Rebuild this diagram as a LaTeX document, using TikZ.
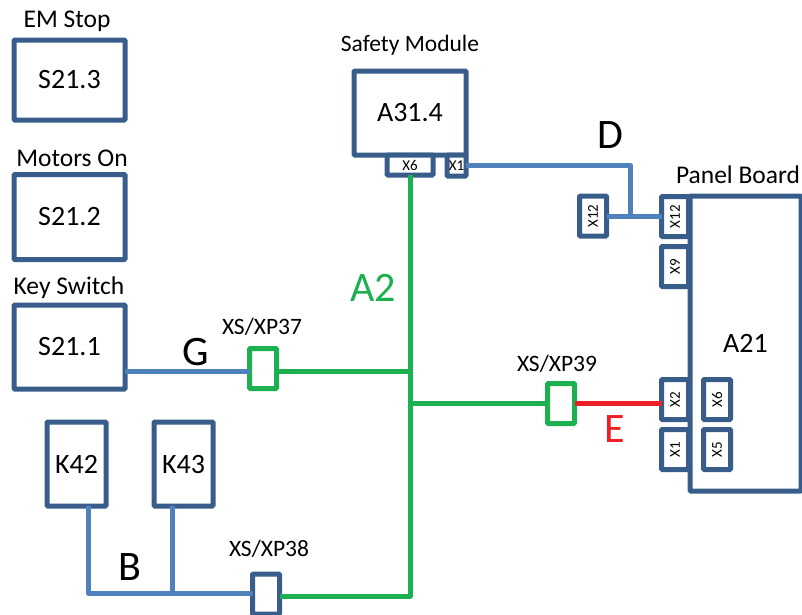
\documentclass[tikz,border=0pt]{standalone}
\usepackage{fontspec}
\setmainfont{Carlito}
\definecolor{boxblue}{HTML}{385D8A}
\definecolor{wireblue}{HTML}{4F81BD}
\definecolor{wiregreen}{HTML}{1DB050}
\definecolor{wirered}{HTML}{EE2027}
\newcommand{\sz}[1]{\fontsize{#1}{#1}\selectfont}

\begin{document}
\begin{tikzpicture}[x=1pt,y=-1pt,
        unitbox/.style={draw=boxblue, fill=white, line width=5pt, rounded corners=1pt, inner sep=0pt, outer sep=0pt, font=\sz{28}},
        portbox/.style={unitbox, font=\sz{15}, minimum width=27pt, minimum height=40pt},
        plugbox/.style={portbox, draw=wiregreen},
        title/.style={font=\sz{23.5}, inner sep=0pt},
        bigtitle/.style={font=\sz{25.5}, inner sep=0pt},
        wirelabel/.style={font=\sz{42}, inner sep=0pt},
        wire/.style={line width=5pt, wireblue, line join=round}
    ]
        \useasboundingbox (0,0) rectangle (802,614);
        % units
        \node[unitbox, minimum width=111pt, minimum height=80pt] (s213) at (69.5,80) {S21.3};
        \node[unitbox, minimum width=111pt, minimum height=85pt] (s212) at (69.5,217) {S21.2};
        \node[unitbox, minimum width=111pt, minimum height=84pt] (s211) at (69.5,347) {S21.1};
        \node[unitbox, minimum width=59pt, minimum height=84pt] (k42) at (76.5,464) {K42};
        \node[unitbox, minimum width=59pt, minimum height=84pt] (k43) at (183.5,464) {K43};
        \node[unitbox, minimum width=112pt, minimum height=84pt] (a314) at (410,113) {A31.4};
        \node[unitbox, minimum width=111pt, minimum height=295pt] (a21) at (745.5,343.5) {A21};
        \node[portbox, minimum width=46pt, minimum height=20pt] (a314x6) at (410,165) {X6};
        \node[portbox, minimum width=19pt, minimum height=21pt] (a314x1) at (456.5,165.5) {X1};
        % ports
        \node[portbox] (x12free) at (593,216) {\rotatebox{90}{X12}};
        \foreach \name/\x/\y/\txt in {a21x12/675/216.5/X12, a21x9/675/266.5/X9, a21x2/675/399.5/X2, a21x1/675/449.5/X1, a21x6/717/399.5/X6, a21x5/717/449.5/X5}
        {
            \node[portbox] (\name) at (\x,\y) {\rotatebox{90}{\txt}};
        }
        % plugs
        \node[plugbox] (xp37) at (263,368.5) {};
        \node[plugbox] (xp39) at (561,403.5) {};
        \node[portbox] (xp38) at (266,594) {};
        % junctions
        \coordinate (tapg) at (410,371);
        \coordinate (tape) at (410,403);
        \coordinate (cornerb) at (410,596);
        \coordinate (cornerd) at (630,165);
        \coordinate (jointd) at (630,216);
        \coordinate (jointk) at (88,593);
        \coordinate (jointb) at (172,593);
        % ~~~~~~~~~~~~~~~~~
        \draw[wire, wiregreen] (a314x6.south) -- (cornerb) -- (xp38.east |- cornerb);
        \draw[wire, wiregreen] (xp37.east |- tapg) -- (tapg);
        \draw[wire, wiregreen] (tape) -- (xp39.west |- tape);
        \draw[wire, wirered] (xp39.east |- tape) -- (a21x2.west |- tape);
        \draw[wire] (s211.east |- tapg) -- (xp37.west |- tapg);
        \draw[wire] (a314x1.east |- cornerd) -- (cornerd) -- (jointd);
        \draw[wire] (x12free.east |- jointd) -- (a21x12.west |- jointd);
        \draw[wire] (k42.south -| jointk) -- (jointk) -- (xp38.west |- jointb);
        \draw[wire] (k43.south -| jointb) -- (jointb);
        % labels
        \node[bigtitle] (emstop) at (67,21) {EM Stop};
        \node[bigtitle] (motorson) at (72,158) {Motors On};
        \node[bigtitle] (keyswitch) at (69,288) {Key Switch};
        \node[title] (safety) at (410,45) {Safety Module};
        \node[bigtitle] (panel) at (738,175) {Panel Board};
        \node[title] (lbl37) at (262,327) {XS/XP37};
        \node[title] (lbl39) at (557,364) {XS/XP39};
        \node[title] (lbl38) at (269,549) {XS/XP38};
        \node[wirelabel, text=wiregreen] (lbla2) at (373,288) {A2};
        \node[wirelabel] (lblg) at (196,352) {G};
        \node[wirelabel] (lbld) at (610,135) {D};
        \node[wirelabel] (lblb) at (130,567) {B};
        \node[wirelabel, text=wirered] (lble) at (615,429) {E};
    \end{tikzpicture}
\end{document}
